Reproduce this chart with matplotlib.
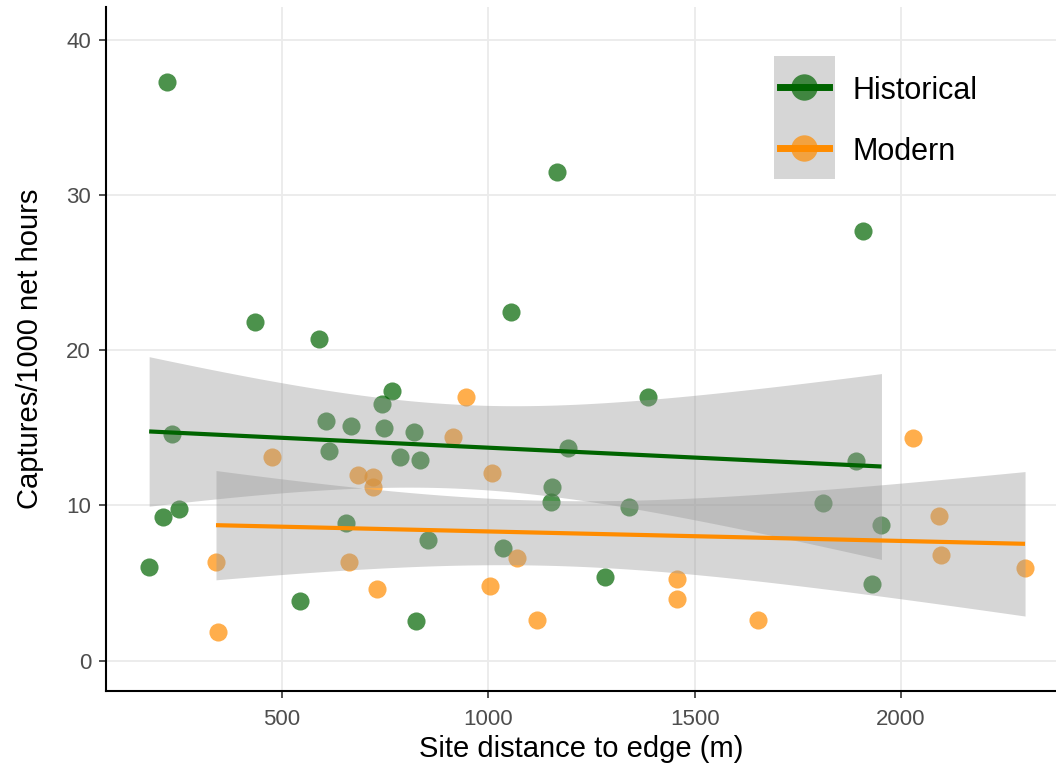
import numpy as np
import matplotlib
matplotlib.use("Agg")
import matplotlib.pyplot as plt
from matplotlib.lines import Line2D
from matplotlib.patches import Rectangle

plt.rcParams['font.family'] = ['Liberation Sans', 'DejaVu Sans']

# dati
hist_dist = [178, 221, 212, 233, 251, 435, 544, 590, 607, 613, 655, 667, 742, 767,
             747, 787, 819, 835, 825, 854, 1036, 1054, 1152, 1155, 1166, 1193, 1284,
             1340, 1386, 1812, 1892, 1907, 1929, 1953]
hist_capt = [6.05, 37.26, 9.27, 14.6, 9.77, 21.8, 3.86, 20.7, 15.45, 13.5, 8.89, 15.13,
             16.53, 17.35, 14.96, 13.14, 14.75, 12.9, 2.58, 7.77, 7.24, 22.45, 10.2, 11.2,
             31.47, 13.68, 5.37, 9.92, 17.0, 10.14, 12.88, 27.67, 4.94, 8.74]

mod_dist = [340, 346, 475, 662, 684, 721, 721, 730, 914, 946, 1009, 1004, 1070, 1117,
            1458, 1458, 1653, 2030, 2092, 2097, 2301]
mod_capt = [6.34, 1.87, 13.14, 6.37, 11.96, 11.85, 11.2, 4.6, 14.42, 17.0, 12.07, 4.83,
            6.59, 2.62, 5.24, 3.95, 2.62, 14.32, 9.32, 6.81, 5.95]

groups = ['Historical', 'Modern']
line_cols = ['#006400', '#FF8C00']
x_ticks = [500, 1000, 1500, 2000]
y_ticks = [0, 10, 20, 30, 40]

# quantili t al 97.5% (n-2 gradi di liberta)
t_crit = {32: 2.0369, 19: 2.0930}


def lm_band(x, y, n_pts=80):
    x = np.asarray(x, float)
    y = np.asarray(y, float)
    n = len(x)
    b1, b0 = np.polyfit(x, y, 1)
    resid = y - (b0 + b1 * x)
    s = np.sqrt(np.sum(resid ** 2) / (n - 2))
    xs = np.linspace(x.min(), x.max(), n_pts)
    yhat = b0 + b1 * xs
    se = s * np.sqrt(1 / n + (xs - x.mean()) ** 2 / np.sum((x - x.mean()) ** 2))
    t = t_crit.get(n - 2, 2.0)
    return xs, yhat, yhat - t * se, yhat + t * se


fig = plt.figure(figsize=(10.56, 7.73), dpi=100)
ax = fig.add_axes([0.1001, 0.1065, 0.8999, 0.8845])

data = [(hist_dist, hist_capt), (mod_dist, mod_capt)]

# punti
for (xd, yd), col in zip(data, line_cols):
    ax.scatter(xd, yd, s=170, color=col, alpha=0.7, linewidths=0, zorder=2)

# retta di regressione + intervallo di confidenza
for (xd, yd), col in zip(data, line_cols):
    xs, yhat, lo, hi = lm_band(xd, yd)
    ax.fill_between(xs, lo, hi, color='#999999', alpha=0.4, linewidth=0, zorder=3)
    ax.plot(xs, yhat, color=col, linewidth=3, zorder=4, solid_capstyle='butt')

ax.set_xlim(72.7, 2376)
ax.set_ylim(-1.93, 42.1)
ax.set_xticks(x_ticks)
ax.set_yticks(y_ticks)
ax.grid(True, color='#ebebeb', linewidth=1.3, zorder=0)
ax.set_axisbelow(True)

for side in ['top', 'right']:
    ax.spines[side].set_visible(False)
for side in ['left', 'bottom']:
    ax.spines[side].set_linewidth(1.5)
    ax.spines[side].set_color('black')

ax.tick_params(axis='both', labelsize=16, labelcolor='#4d4d4d', length=5,
               width=1.2, color='#333333')
ax.tick_params(axis='x', pad=8)
ax.tick_params(axis='y', pad=5.5)
ax.set_xlabel('Site distance to edge (m)', fontsize=21, labelpad=4)
ax.set_ylabel('Captures/1000 net hours', fontsize=21, labelpad=16)

# legenda fatta a mano (sfondo grigio delle chiavi come in ggplot)
ax.add_patch(Rectangle((0.703, 0.7484), 0.0642, 0.1799, transform=ax.transAxes,
                       facecolor='#d6d6d6', edgecolor='none', zorder=5))
key_y = [0.8834, 0.7933]
for lab, col, ky in zip(groups, line_cols, key_y):
    ax.add_line(Line2D([0.7096, 0.7611], [ky, ky], transform=ax.transAxes,
                       color=col, linewidth=5, zorder=6))
    ax.add_line(Line2D([0.7353], [ky], transform=ax.transAxes, marker='o',
                       markersize=19, markerfacecolor=col, markeredgewidth=0,
                       alpha=0.7, linestyle='none', zorder=7))
    ax.text(0.786, ky - 0.006, lab, transform=ax.transAxes, fontsize=22, va='center',
            ha='left', color='black', zorder=7)

fig.savefig('out.png', dpi=100)
